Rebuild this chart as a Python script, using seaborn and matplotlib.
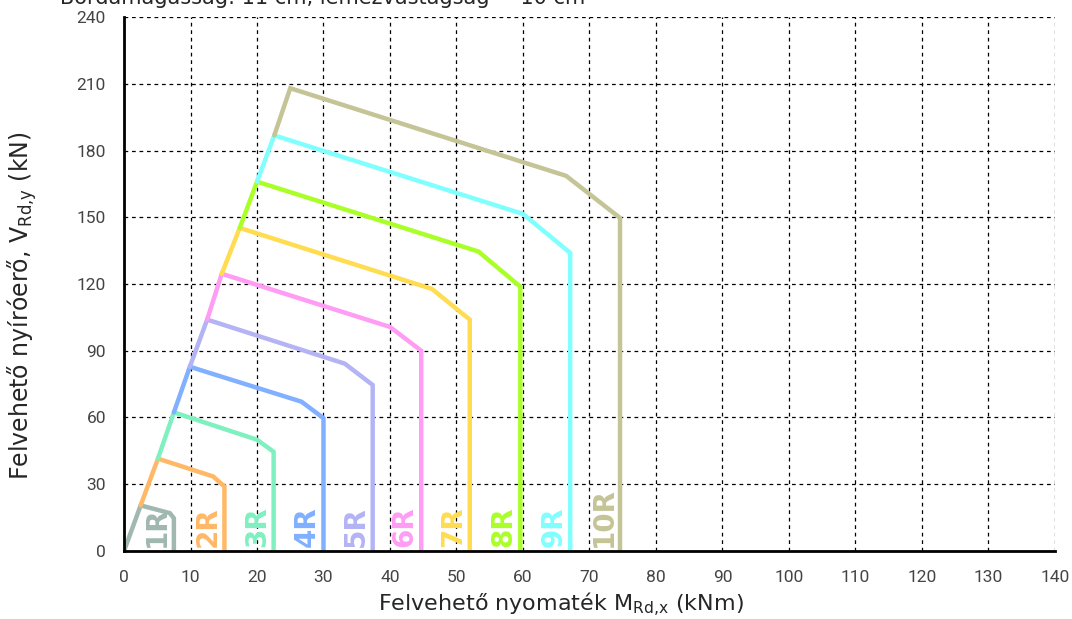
import seaborn as sns
import matplotlib.pyplot as plt
import pandas as pd

# Curve vertices (M in kNm, V in kN)
labels = ["1R", "2R", "3R", "4R", "5R", "6R", "7R", "8R", "9R", "10R"]
colors = ["#a0b8b0", "#ffb866", "#80f0c0", "#80b0ff", "#b4b4f4",
          "#ff9cf4", "#ffdc50", "#aaff28", "#80ffff", "#c4c496"]
peak_m = [2.5, 5.1, 7.5, 9.9, 12.5, 14.7, 17.4, 20.0, 22.6, 25.0]
peak_v = [20.5, 41.5, 62.3, 82.8, 104.0, 124.6, 145.2, 166.0, 186.8, 208.0]
knee_m = [6.9, 13.4, 20.0, 26.7, 33.2, 40.0, 46.3, 53.3, 60.0, 66.5]
knee_v = [17.0, 33.5, 50.0, 67.1, 84.2, 100.7, 117.8, 134.6, 151.5, 168.6]
edge_m = [7.5, 15.1, 22.5, 30.0, 37.4, 44.7, 52.0, 59.6, 67.1, 74.6]
edge_v = [14.7, 29.0, 44.6, 59.7, 74.6, 90.0, 104.0, 118.8, 134.0, 149.7]

rows = []
prev_m, prev_v = 0.0, 0.0
for i, lab in enumerate(labels):
    pts = [(prev_m, prev_v), (peak_m[i], peak_v[i]), (knee_m[i], knee_v[i]),
           (edge_m[i], edge_v[i]), (edge_m[i], 0.0)]
    for k, (m, v) in enumerate(pts):
        rows.append({"curve": lab, "order": k, "M": m, "V": v})
    prev_m, prev_v = peak_m[i], peak_v[i]
df = pd.DataFrame(rows)

sns.set_style("white")
fig = plt.figure(figsize=(10.72, 6.19), dpi=100)
ax = fig.add_axes([0.1157, 0.1099, 0.8683, 0.8626])

sns.lineplot(data=df, x="M", y="V", hue="curve", palette=colors, sort=False,
             estimator=None, units="curve", linewidth=3.2, legend=False, ax=ax)
for line in ax.get_lines():
    line.set_solid_joinstyle("miter")

for i, lab in enumerate(labels):
    ax.text(edge_m[i] - 2.5, 2.0, lab, rotation=90, color=colors[i],
            fontsize=20, fontweight="bold", family="DejaVu Sans",
            ha="center", va="bottom")

ax.set_xlim(0, 140)
ax.set_ylim(0, 240)
ax.set_xticks(range(0, 141, 10))
ax.set_yticks(range(0, 241, 30))
ax.grid(True, color="black", linestyle=(0, (3, 3)), linewidth=0.9)
ax.set_axisbelow(True)
for s in ["top", "right"]:
    ax.spines[s].set_visible(False)
for s in ["left", "bottom"]:
    ax.spines[s].set_linewidth(2)
    ax.spines[s].set_color("black")
ax.tick_params(axis="both", direction="inout", length=10, width=1.5,
               labelsize=12.5, colors="black", labelcolor="#444444")
ax.tick_params(axis="x", pad=9)
ax.tick_params(axis="y", pad=8)
for t in ax.get_xticklabels() + ax.get_yticklabels():
    t.set_family("Roboto")

ax.set_xlabel(r"Felvehető nyomaték M$_\mathregular{Rd{,}x}$ (kNm)", fontsize=16)
ax.set_ylabel(r"Felvehető nyíróerő, V$_\mathregular{Rd{,}y}$ (kN)", fontsize=17)
ax.xaxis.set_label_coords(0.469, -0.101)
ax.xaxis.label.set_va("center")
ax.yaxis.set_label_coords(-0.1096, 0.46)
ax.yaxis.label.set_va("center")

fig.text(0.056, 1 - 4 / 619, "Bordamagasság: 11 cm, lemezvastagság = 10 cm",
         fontsize=15, va="baseline", ha="left")

plt.savefig("out.png", dpi=100)
